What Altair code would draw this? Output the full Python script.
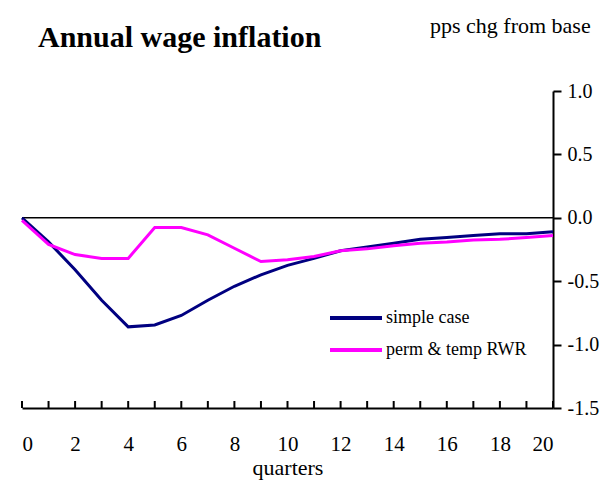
import altair as alt
import pandas as pd

quarters = list(range(21))
simple_case = [0.0, -0.19, -0.41, -0.65, -0.86, -0.845, -0.77, -0.65, -0.54, -0.45, -0.375,
               -0.32, -0.26, -0.23, -0.20, -0.17, -0.155, -0.14, -0.125, -0.125, -0.11]
perm_temp = [-0.02, -0.21, -0.29, -0.32, -0.32, -0.077, -0.077, -0.134, -0.24, -0.345, -0.33,
             -0.305, -0.26, -0.245, -0.22, -0.20, -0.19, -0.175, -0.17, -0.155, -0.14]
series_names = ["simple case", "perm & temp RWR"]
series_colors = ["#000080", "#FF00FF"]
y_ticks = [-1.5, -1.0, -0.5, 0.0, 0.5, 1.0]
x_labels = list(range(0, 21, 2))

W, H = 531, 317
FONT = "Liberation Serif"

rows = []
for name, vals in zip(series_names, [simple_case, perm_temp]):
    for q, v in zip(quarters, vals):
        rows.append({"quarter": q, "value": v, "series": name})
df = pd.DataFrame(rows)

xscale = alt.Scale(domain=[0, 20], nice=False, zero=False)
yscale = alt.Scale(domain=[-1.5, 1.0], nice=False)
color = alt.Color("series:N", scale=alt.Scale(domain=series_names, range=series_colors), legend=None)

ylabel_expr = "datum.value < 0 ? '-' + format(-datum.value, '.1f') : format(datum.value, '.1f')"

lines = alt.Chart(df).mark_line(strokeWidth=3, clip=False).encode(
    x=alt.X("quarter:Q", scale=xscale,
            axis=alt.Axis(values=x_labels, format="d", title="quarters", grid=False,
                          domain=True, domainColor="black", domainWidth=2, ticks=False,
                          labelPadding=25, labelFont=FONT, labelFontSize=21, labelColor="black",
                          titleFont=FONT, titleFontSize=22, titleFontWeight="normal",
                          titleColor="black", titlePadding=3)),
    y=alt.Y("value:Q", scale=yscale,
            axis=alt.Axis(orient="right", values=y_ticks, labelExpr=ylabel_expr, title=None,
                          grid=False, domainColor="black", domainWidth=2, tickColor="black",
                          tickWidth=2, tickSize=8, labelPadding=6, labelFont=FONT,
                          labelFontSize=20, labelColor="black")),
    color=color,
)

zero_df = pd.DataFrame({"q0": [0], "q1": [20], "v": [0.0]})
zero = alt.Chart(zero_df).mark_rule(color="black", strokeWidth=1.5).encode(
    x=alt.X("q0:Q", scale=xscale), x2="q1:Q", y=alt.Y("v:Q", scale=yscale, axis=None))

tick_df = pd.DataFrame({"quarter": quarters})
xticks = alt.Chart(tick_df).mark_rule(color="black", strokeWidth=2).encode(
    x=alt.X("quarter:Q", scale=xscale), y=alt.value(H), y2=alt.value(H - 7))

leg_df = pd.DataFrame({"series": series_names, "row": [0, 1]})
leg_y = alt.Y("row:Q", scale=alt.Scale(domain=[0, 1], range=[227, 259]), axis=None)
leg_lines = alt.Chart(leg_df).mark_rule(strokeWidth=4).encode(
    x=alt.value(308), x2=alt.value(360), y=leg_y, color=color)
leg_text = alt.Chart(leg_df).mark_text(align="left", baseline="middle", font=FONT,
                                       fontSize=18, color="black").encode(
    x=alt.value(364), y=leg_y, text="series:N")

title_df = pd.DataFrame({"t": ["Annual wage inflation"]})
title = alt.Chart(title_df).mark_text(align="left", baseline="alphabetic", font=FONT,
                                      fontSize=30, fontWeight="bold", color="black").encode(
    x=alt.value(16), y=alt.value(-44), text="t:N")
sub_df = pd.DataFrame({"t": ["pps chg from base"]})
subtitle = alt.Chart(sub_df).mark_text(align="left", baseline="alphabetic", font=FONT,
                                       fontSize=22, color="black").encode(
    x=alt.value(408), y=alt.value(-58), text="t:N")

chart = alt.layer(zero, xticks, lines, leg_lines, leg_text, title, subtitle).resolve_scale(
    y="independent").properties(
    width=W, height=H,
    autosize=alt.AutoSizeParams(type="none"),
    padding={"left": 14, "top": 83, "right": 51, "bottom": 72},
).configure_view(stroke=None)

chart.save("out.html", embed_options={"renderer": "svg", "actions": False})
